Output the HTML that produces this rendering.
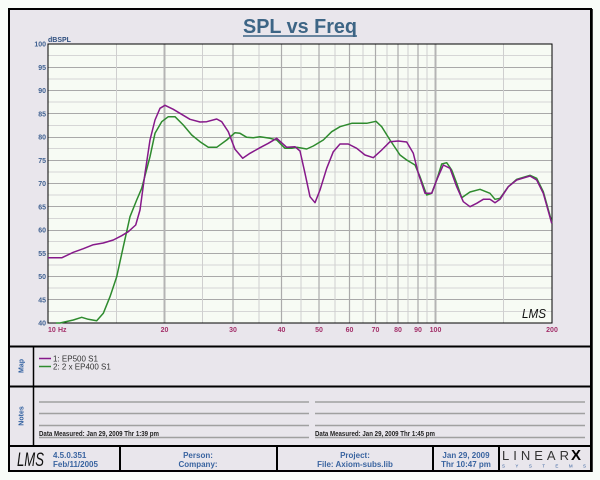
<!DOCTYPE html>
<html><head><meta charset="utf-8"><style>
html,body{margin:0;padding:0;background:#f8fcf8;}
svg{display:block;}
text{font-family:"Liberation Sans",sans-serif;}
</style></head><body>
<svg width="600" height="480" viewBox="0 0 600 480" xmlns="http://www.w3.org/2000/svg">
<rect x="0" y="0" width="600" height="480" fill="#f8fcf8"/>
<!-- outer frame -->
<rect x="9" y="9" width="582" height="462" fill="#e9e6ec" stroke="#000" stroke-width="2"/>
<line x1="592" y1="9" x2="592" y2="472" stroke="#000" stroke-width="1.5"/>
<!-- Title -->
<text x="300" y="33" text-anchor="middle" font-size="20" font-weight="bold" fill="#3d6585" textLength="114" lengthAdjust="spacingAndGlyphs">SPL vs Freq</text>
<line x1="243" y1="36" x2="357" y2="36" stroke="#3d6585" stroke-width="1.5"/>
<!-- plot area -->
<rect x="48" y="44" width="504" height="279" fill="#f7fbf4"/>
<g stroke="#d6d6d6" stroke-width="1">
<line x1="48" x2="552" y1="55.5" y2="55.5"/><line x1="48" x2="552" y1="79" y2="79"/>
<line x1="48" x2="552" y1="102" y2="102"/><line x1="48" x2="552" y1="125.5" y2="125.5"/>
<line x1="48" x2="552" y1="148.5" y2="148.5"/><line x1="48" x2="552" y1="172" y2="172"/>
<line x1="48" x2="552" y1="195" y2="195"/><line x1="48" x2="552" y1="218.5" y2="218.5"/>
<line x1="48" x2="552" y1="241.5" y2="241.5"/><line x1="48" x2="552" y1="265" y2="265"/>
<line x1="48" x2="552" y1="288" y2="288"/><line x1="48" x2="552" y1="311.5" y2="311.5"/>
</g>
<g stroke="#a9a9a9" stroke-width="1">
<line x1="48" x2="552" y1="67.5" y2="67.5"/><line x1="48" x2="552" y1="90.5" y2="90.5"/>
<line x1="48" x2="552" y1="113.5" y2="113.5"/><line x1="48" x2="552" y1="137.5" y2="137.5"/>
<line x1="48" x2="552" y1="160.5" y2="160.5"/><line x1="48" x2="552" y1="183.5" y2="183.5"/>
<line x1="48" x2="552" y1="206.5" y2="206.5"/><line x1="48" x2="552" y1="230.5" y2="230.5"/>
<line x1="48" x2="552" y1="253.5" y2="253.5"/><line x1="48" x2="552" y1="276.5" y2="276.5"/>
<line x1="48" x2="552" y1="299.5" y2="299.5"/>
</g>
<g stroke="#cfcfcf" stroke-width="1">
<line y1="44" y2="323" x1="116.5" x2="116.5"/><line y1="44" y2="323" x1="202.5" x2="202.5"/>
<line y1="44" y2="323" x1="259" x2="259"/><line y1="44" y2="323" x1="301" x2="301"/>
<line y1="44" y2="323" x1="335" x2="335"/><line y1="44" y2="323" x1="363" x2="363"/>
<line y1="44" y2="323" x1="387" x2="387"/><line y1="44" y2="323" x1="408" x2="408"/>
<line y1="44" y2="323" x1="427" x2="427"/><line y1="44" y2="323" x1="503.5" x2="503.5"/>
</g>
<g stroke="#ababab" stroke-width="1.2">
<line y1="44" y2="323" x1="233" x2="233"/><line y1="44" y2="323" x1="281.5" x2="281.5"/>
<line y1="44" y2="323" x1="319" x2="319"/><line y1="44" y2="323" x1="349.5" x2="349.5"/>
<line y1="44" y2="323" x1="375.5" x2="375.5"/><line y1="44" y2="323" x1="398" x2="398"/>
<line y1="44" y2="323" x1="418" x2="418"/>
</g>
<g stroke="#b4b4b4" stroke-width="2">
<line y1="44" y2="323" x1="164.5" x2="164.5"/><line y1="44" y2="323" x1="435.5" x2="435.5"/>
</g>
<rect x="48" y="44" width="504" height="279" fill="none" stroke="#000" stroke-width="1"/>
<!-- curves -->
<polyline fill="none" stroke="#2e8b2e" stroke-width="1.5" stroke-linejoin="round" points="56,323 60,323 73.3,320 81.7,317.3 88.3,319.3 96.7,320.7 103.3,313.3 110,296.7 116.7,276.7 123.3,246.7 130,216.7 136.7,200 141.7,188.3 150,156.7 155,133.3 161.7,121.7 168.3,116.7 175,116.7 183.3,125 191.7,135 200,141.7 208.3,147.3 216.7,147.3 226.7,140 235,132.7 240,133.3 246.7,137.3 253.3,137.7 260,136.7 270,138.3 276.7,140 285,148.3 291.7,148.3 296.7,147.3 306.7,149 313.3,146 323.3,140 331.7,131.7 340,126.7 351.7,123.3 366.7,123.3 376,121.3 381.7,126.7 390,140 400,155 406.7,160 415,165 420,176.7 426.7,195 431.7,193.3 436.7,180 441.7,164 446.7,162.7 451.7,170 456.7,183.3 461.7,197.7 470,192 480,189.3 490,193.3 495,199.3 500,198.3 508.3,186.7 516.7,179.3 530,175.3 536.7,178.3 543.3,191.7 551.7,221.7"/>
<polyline fill="none" stroke="#86198a" stroke-width="1.5" stroke-linejoin="round" points="48,257.7 62,257.7 73.3,252.3 83.3,248.7 93.3,244.7 103.3,243 113.3,240 121.7,235.7 128.3,231.7 135.7,225 140,210 145,173.3 150,140 155,120 160,108.3 165,105.3 173.3,109.3 183.3,115.3 190,119.3 200,122 206.7,121.7 216.7,119 221.7,121.7 228.3,131.7 235,149.3 242.7,158.3 250,153.3 260,147.7 268.3,143.3 276.7,138.3 286.7,147.3 295,146.7 300,151 305,173.3 310,196.7 315,202.7 320,190 326.7,168.3 333.3,151.7 340,144 348.3,144 356.7,148.3 365,155 373.3,157.7 381.7,150 390,141.7 398.3,141 406.7,142 413.3,153.3 418.3,173.3 425,193.3 431.7,193.3 436.7,180 443.3,165 450,168.3 456.7,186.7 463.3,201.7 470,206.7 476.7,203.3 483.3,199.3 490,199.3 495,202.7 500,199.3 508.3,186.7 516.7,180 523.3,178 530,176 536.7,180 543.3,193.3 551.7,223.3"/>
<!-- LMS in plot -->
<text x="522" y="318" font-family="Liberation Serif" font-style="italic" font-size="13" fill="#111" textLength="24" lengthAdjust="spacingAndGlyphs">LMS</text>
<!-- axis labels -->
<text x="48" y="42" font-size="7" font-weight="bold" fill="#2f4f7f">dBSPL</text>
<g font-size="7" font-weight="bold" fill="#3f6090" text-anchor="end">
<text x="46" y="46.5">100</text><text x="46" y="70">95</text><text x="46" y="93">90</text>
<text x="46" y="116.5">85</text><text x="46" y="139.5">80</text><text x="46" y="163">75</text>
<text x="46" y="186">70</text><text x="46" y="209.5">65</text><text x="46" y="232.5">60</text>
<text x="46" y="256">55</text><text x="46" y="279">50</text><text x="46" y="302.5">45</text>
<text x="46" y="325.5">40</text>
</g>
<g font-size="7" font-weight="bold" fill="#a3306a" text-anchor="middle">
<text x="48" y="332" text-anchor="start">10</text><text x="58" y="332" text-anchor="start">Hz</text>
<text x="164.5" y="332">20</text><text x="233" y="332">30</text><text x="281.5" y="332">40</text>
<text x="319" y="332">50</text><text x="349.5" y="332">60</text><text x="375.5" y="332">70</text>
<text x="398" y="332">80</text><text x="418" y="332">90</text><text x="435.5" y="332">100</text>
<text x="552" y="332">200</text>
</g>
<!-- section borders -->
<line x1="8" y1="346.5" x2="592" y2="346.5" stroke="#000" stroke-width="2"/>
<line x1="8" y1="386.5" x2="592" y2="386.5" stroke="#000" stroke-width="2"/>
<line x1="8" y1="446" x2="592" y2="446" stroke="#000" stroke-width="2"/>
<line x1="33.5" y1="346" x2="33.5" y2="446" stroke="#000" stroke-width="1.5"/>
<!-- Map -->
<text transform="translate(23.5,366) rotate(-90)" text-anchor="middle" font-size="7" font-weight="bold" fill="#2f5f9f">Map</text>
<line x1="39" y1="358.5" x2="51" y2="358.5" stroke="#86198a" stroke-width="1.5"/>
<line x1="39" y1="366.5" x2="51" y2="366.5" stroke="#2e8b2e" stroke-width="1.5"/>
<g font-size="8" fill="#333">
<text x="53" y="361.5">1: EP500 S1</text>
<text x="53" y="369.5">2: 2 x EP400 S1</text>
</g>
<!-- Notes -->
<text transform="translate(23.5,416) rotate(-90)" text-anchor="middle" font-size="7" font-weight="bold" fill="#2f5f9f">Notes</text>
<g stroke="#a0a0a0" stroke-width="1.5">
<line x1="39" y1="402" x2="309" y2="402"/><line x1="315" y1="402" x2="585" y2="402"/>
<line x1="39" y1="413.5" x2="309" y2="413.5"/><line x1="315" y1="413.5" x2="585" y2="413.5"/>
<line x1="39" y1="425.5" x2="309" y2="425.5"/><line x1="315" y1="425.5" x2="585" y2="425.5"/>
<line x1="39" y1="437.5" x2="309" y2="437.5"/><line x1="315" y1="437.5" x2="585" y2="437.5"/>
</g>
<g font-size="7" font-weight="bold" fill="#222">
<text x="39" y="436" textLength="120" lengthAdjust="spacingAndGlyphs">Data Measured: Jan 29, 2009  Thr  1:39 pm</text>
<text x="315" y="436" textLength="120" lengthAdjust="spacingAndGlyphs">Data Measured: Jan 29, 2009  Thr  1:45 pm</text>
</g>
<!-- footer -->
<g stroke="#000" stroke-width="2">
<line x1="120" y1="446" x2="120" y2="471"/>
<line x1="277" y1="446" x2="277" y2="471"/>
<line x1="433" y1="446" x2="433" y2="471"/>
<line x1="499" y1="446" x2="499" y2="471"/>
</g>
<text x="17" y="466" font-family="Liberation Serif" font-style="italic" font-size="19" fill="#111" textLength="27" lengthAdjust="spacingAndGlyphs">LMS</text>
<g font-size="8" font-weight="bold" fill="#3a64a0">
<text x="53" y="458">4.5.0.351</text>
<text x="53" y="467">Feb/11/2005</text>
<text x="198" y="458" text-anchor="middle">Person:</text>
<text x="198" y="467" text-anchor="middle">Company:</text>
<text x="355" y="458" text-anchor="middle">Project:</text>
<text x="355" y="467" text-anchor="middle">File: Axiom-subs.lib</text>
<text x="466" y="458" text-anchor="middle">Jan 29, 2009</text>
<text x="466" y="467" text-anchor="middle">Thr 10:47 pm</text>
</g>
<text x="502" y="460" font-family="Liberation Serif" font-size="13" fill="#333" textLength="67" lengthAdjust="spacing">LINEAR</text>
<text x="571" y="460" font-size="15" font-weight="bold" fill="#000">X</text>
<text x="502" y="467.5" font-size="4.5" fill="#3a64a0" textLength="84" lengthAdjust="spacing">SYSTEMS</text>
</svg>
</body></html>
